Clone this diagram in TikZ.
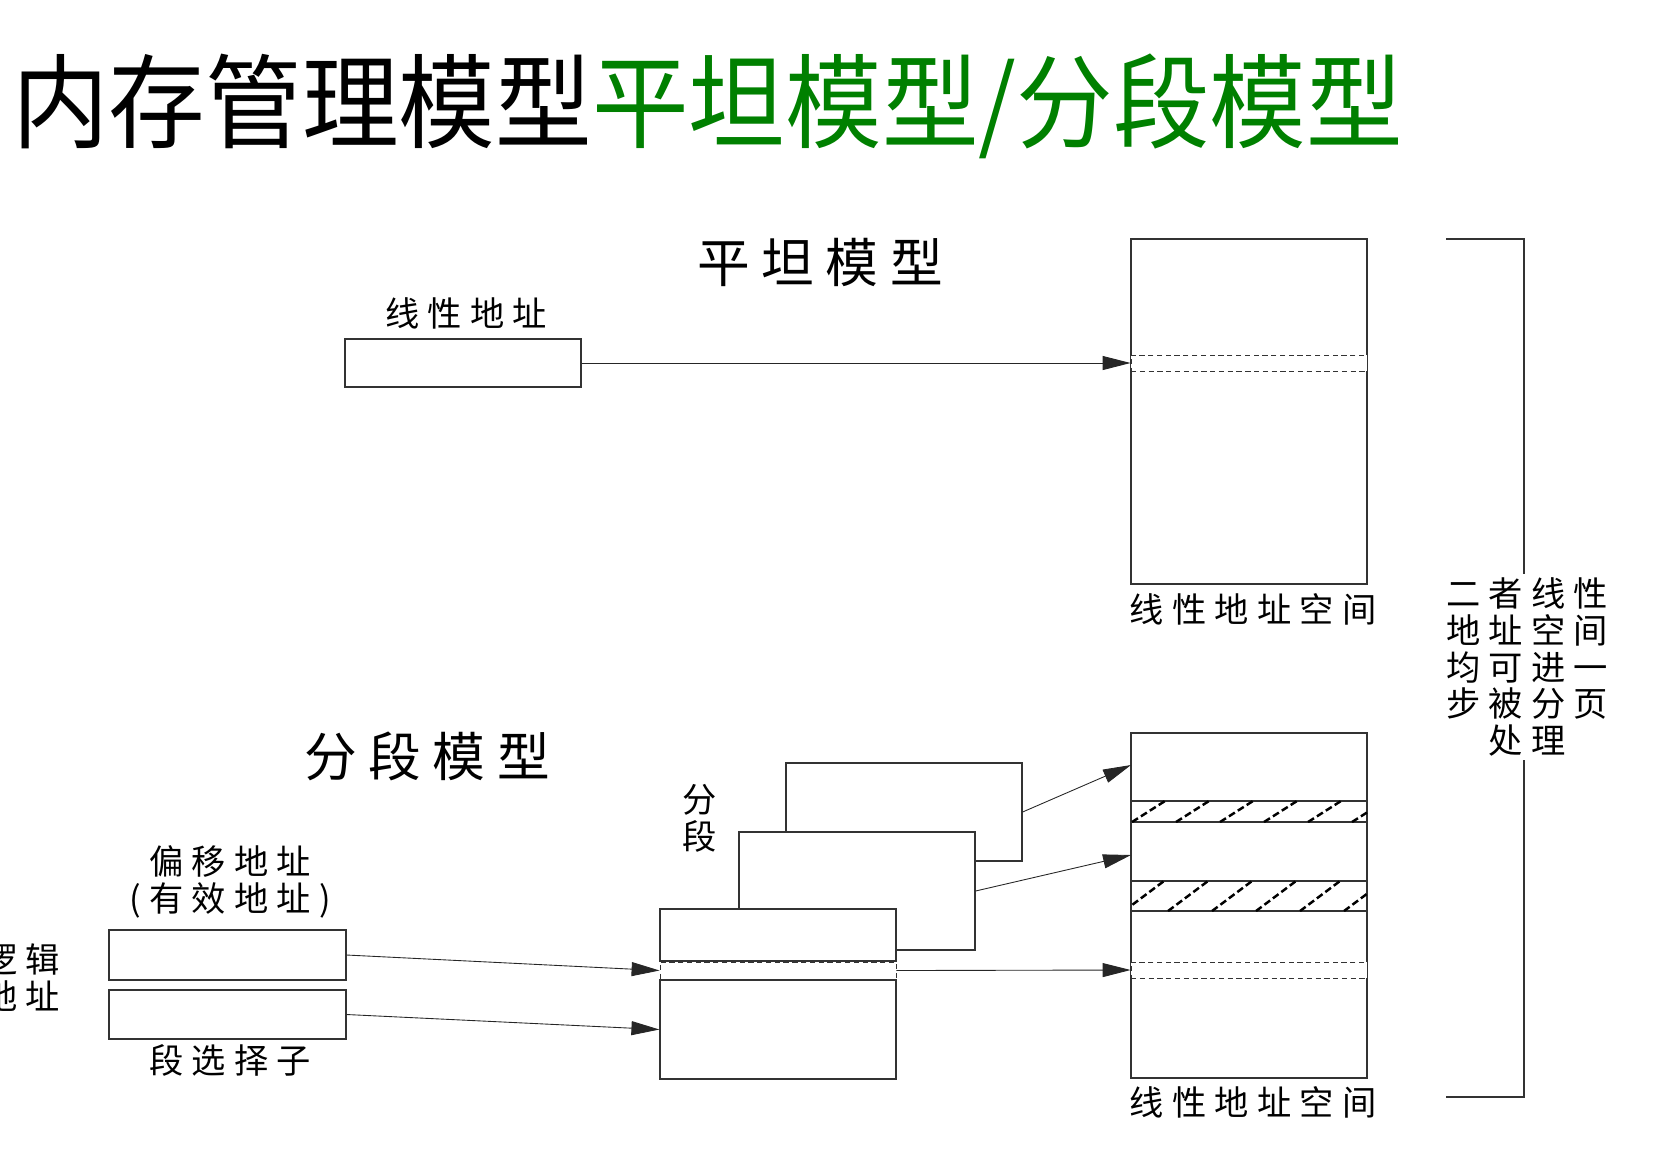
\documentclass[tikz,border=0pt]{standalone}
\usepackage{fontspec}
\setmainfont{Noto Sans CJK SC}
\newfontfamily\headfont[LetterSpace=22]{Noto Sans CJK SC}
\newfontfamily\lblfont[LetterSpace=24]{Noto Sans CJK SC}
\usetikzlibrary{arrows.meta, positioning}
\definecolor{titlegreen}{RGB}{0,128,0}

\begin{document}
\begin{tikzpicture}[
    x=0.02cm, y=-0.02cm,
    box/.style={draw=black!80, fill=white, line width=0.7pt, minimum width=4.72cm, inner sep=0pt},
    band/.style={box, dashed, dash pattern=on 3pt off 2pt, line width=0.5pt},
    arr/.style={-{Triangle[length=0.56cm, width=0.28cm]}, line width=0.5pt, black!85},
    hatch/.style={line width=1.4pt, dash pattern=on 4pt off 2pt},
    head/.style={font=\headfont\fontsize{30}{34}\selectfont},
    lbl/.style={font=\lblfont\fontsize{19.5}{21}\selectfont},
]
\useasboundingbox (0,0) rectangle (1675,1157);
% === Title ===
\node[anchor=west, inner sep=0pt, font=\fontsize{55}{60}\selectfont] (title) at (12,106)
    {\scalebox{1}[1.06]{内存管理模型\textcolor{titlegreen}{平坦模型/分段模型}}};
% === Flat model ===
\node[head] (flathead) at (820,262) {平坦模型};
\node[box, minimum height=0.96cm] (linaddr) at (463,363) {};
\node[lbl] (linaddrlbl) at (466,313) {线性地址};
\node[box, minimum height=6.9cm] (flatsp) at (1249,411.5) {};
\node[band, minimum height=0.32cm] (flatsel) at (1249,363) {};
\node[lbl] (flatlbl) at (1253,609) {线性地址空间};
\draw[arr] (linaddr) -- (flatsel.west);
% === Segmented model ===
\node[head] (seghead) at (427,756) {分段模型};
\node[box, minimum height=6.9cm] (segsp) at (1249,905.5) {};
\node[box, minimum height=0.42cm] (hatchA) at (1249,811.5) {};
\node[box, minimum height=0.6cm] (hatchB) at (1249,896) {};
\node[band, minimum height=0.32cm] (segsel) at (1249,970) {};
\node[lbl] (seglbl) at (1253,1102) {线性地址空间};
% hatched segments
\begin{scope}
\clip (hatchA.north west) rectangle (hatchA.south east);
\foreach \i in {0,...,5}
    \draw[hatch] (1132+44*\i,822) -- ++(33,-21);
\end{scope}
\begin{scope}
\clip (hatchB.north west) rectangle (hatchB.south east);
\foreach \i in {0,...,5}
    \draw[hatch] (1124+44*\i,911) -- ++(40,-30);
\end{scope}
% stacked segments
\node[box, minimum height=1.96cm] (segC) at (904,812) {};
\node[box, minimum height=2.36cm] (segB) at (857,891) {};
\node[box, minimum height=1.04cm] (segAtop) at (778,935) {};
\node[band, minimum height=0.34cm] (segAsel) at (778,970.5) {};
\node[box, minimum height=1.98cm] (segAbot) at (778,1029.5) {};
\node[font=\fontsize{19.5}{21}\selectfont, align=center] (segname) at (700,818) {分\\段};
\coordinate (segtipC) at (1131,765);
\coordinate (segtipB) at (1131,855);
\draw[arr] (segC.east) -- (segtipC);
\draw[arr] (segB.east) -- (segtipB);
\draw[arr] (segAsel.east) -- (segsel.west);
% logical address
\node[box, minimum width=4.74cm, minimum height=1.0cm] (offset) at (227.5,955) {};
\node[box, minimum width=4.74cm, minimum height=0.98cm] (selector) at (227.5,1014.5) {};
\node[lbl, align=center] (offsetlbl) at (230,882) {偏移地址\\(有效地址)};
\node[lbl] (selectorlbl) at (230,1060) {段选择子};
\node[lbl, align=right, anchor=east] (logiclbl) at (66,978) {逻辑\\地址};
\draw[arr] (offset.east) -- (segAsel.west);
\draw[arr] (selector.east) -- (segAbot.west);
% === Bracket with note ===
\coordinate (brtop) at (1446,239);
\coordinate (brbot) at (1446,1097);
\draw[line width=0.7pt, black!80] (brtop) -- ++(78,0) |- (brbot);
\node[lbl, fill=white, align=center, inner sep=2pt] (note) at (1527,667)
    {二者线性\\地址空间\\均可进一\\步被分页\\处理};
\end{tikzpicture}
\end{document}
